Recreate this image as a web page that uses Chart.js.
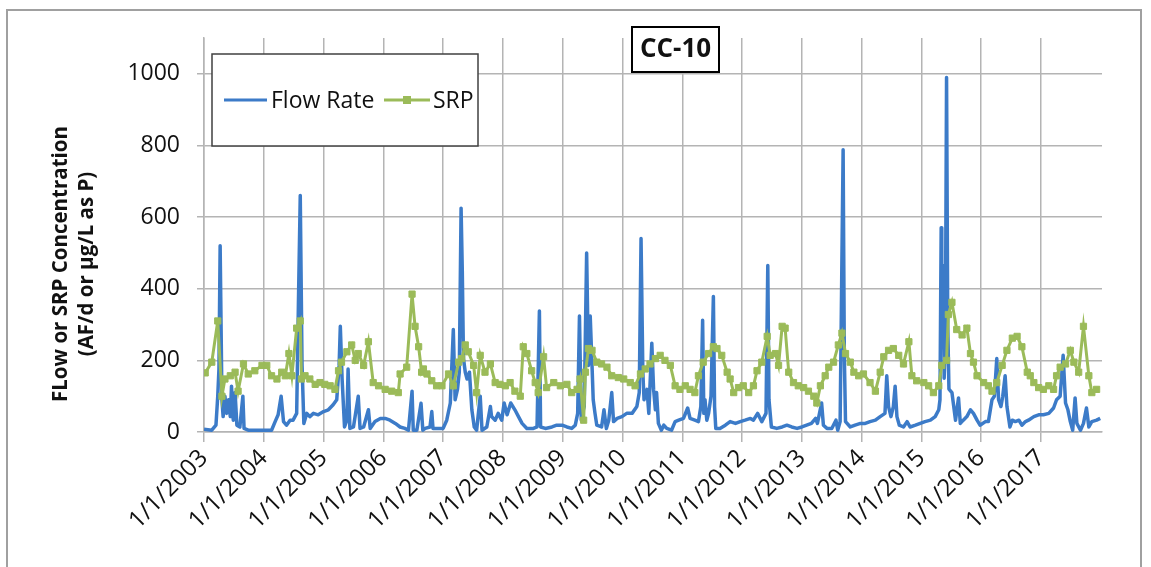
<!DOCTYPE html>
<html>
<head>
<meta charset="utf-8">
<script src="https://cdn.jsdelivr.net/npm/chart.js@4.4.1/dist/chart.umd.min.js"></script>
<style>
  html, body { margin: 0; padding: 0; background: #ffffff; }
  #wrap { position: relative; width: 1151px; height: 567px; }
  canvas { display: block; }
</style>
</head>
<body>
<div id="wrap"><canvas id="c" width="1151" height="567"></canvas></div>
<script>
// ---- Chart text ----
const chartTitle = 'CC-10';
const yTitleLines = ['FLow or SRP Concentration', '(AF/d or \u00b5g/L as P)'];
const seriesNames = ['Flow Rate', 'SRP'];

// ---- Axis ticks ----
const xTickYears = [2003, 2004, 2005, 2006, 2007, 2008, 2009, 2010, 2011, 2012, 2013, 2014, 2015, 2016, 2017];
const xTickLabels = ['1/1/2003', '1/1/2004', '1/1/2005', '1/1/2006', '1/1/2007', '1/1/2008', '1/1/2009',
  '1/1/2010', '1/1/2011', '1/1/2012', '1/1/2013', '1/1/2014', '1/1/2015', '1/1/2016', '1/1/2017'];
const yTickValues = [0, 200, 400, 600, 800, 1000];

// ---- Flow rate (AF/d), [decimal year, value] ----
const flowReadings = [
  [2003.00, 8], [2003.13, 5], [2003.20, 19], [2003.23, 100], [2003.25, 176], [2003.27, 520], [2003.30, 90], [2003.32, 43],
  [2003.35, 100], [2003.38, 52], [2003.41, 90], [2003.44, 43], [2003.46, 128], [2003.49, 33], [2003.52, 110], [2003.55, 19],
  [2003.60, 14], [2003.65, 100], [2003.67, 10], [2003.74, 5],
  [2004.13, 5], [2004.19, 29], [2004.24, 48], [2004.29, 100], [2004.33, 29], [2004.38, 19], [2004.44, 33], [2004.49, 33],
  [2004.55, 52], [2004.58, 367], [2004.61, 660], [2004.64, 186], [2004.67, 24], [2004.72, 52], [2004.77, 43], [2004.83, 52],
  [2004.91, 48],
  [2005.00, 57], [2005.08, 62], [2005.16, 76], [2005.22, 90], [2005.26, 186], [2005.28, 295], [2005.31, 148], [2005.35, 14],
  [2005.39, 33], [2005.41, 176], [2005.44, 10], [2005.50, 14], [2005.58, 100], [2005.61, 10], [2005.67, 14], [2005.75, 62],
  [2005.78, 10], [2005.86, 29], [2005.95, 38],
  [2006.03, 38], [2006.11, 33], [2006.20, 24], [2006.28, 14], [2006.36, 10], [2006.42, 5], [2006.48, 114], [2006.50, 5],
  [2006.56, 5], [2006.63, 80], [2006.66, 5], [2006.70, 10], [2006.78, 14], [2006.81, 57], [2006.83, 10],
  [2007.00, 10], [2007.06, 33], [2007.12, 81], [2007.17, 286], [2007.20, 90], [2007.24, 119], [2007.27, 167], [2007.30, 625],
  [2007.32, 452], [2007.34, 205], [2007.37, 167], [2007.40, 148], [2007.44, 167], [2007.48, 62], [2007.52, 14], [2007.56, 5],
  [2007.62, 100], [2007.65, 5], [2007.73, 14], [2007.79, 71], [2007.81, 43], [2007.87, 33], [2007.92, 52], [2007.98, 33],
  [2008.02, 81], [2008.07, 48], [2008.13, 81], [2008.20, 62], [2008.26, 43], [2008.32, 24], [2008.40, 10], [2008.51, 10],
  [2008.57, 14], [2008.61, 338], [2008.63, 14], [2008.71, 10], [2008.82, 14], [2008.90, 19], [2008.99, 19],
  [2009.07, 14], [2009.15, 10], [2009.21, 19], [2009.25, 52], [2009.28, 324], [2009.31, 33], [2009.33, 52], [2009.36, 71],
  [2009.40, 500], [2009.43, 186], [2009.46, 324], [2009.49, 186], [2009.51, 90], [2009.54, 52], [2009.57, 19], [2009.65, 14],
  [2009.69, 62], [2009.73, 10], [2009.77, 33], [2009.82, 110], [2009.85, 29], [2009.91, 38], [2009.99, 43],
  [2010.07, 52], [2010.16, 52], [2010.24, 71], [2010.28, 110], [2010.31, 540], [2010.34, 167], [2010.36, 90], [2010.41, 119],
  [2010.44, 52], [2010.49, 248], [2010.52, 119], [2010.55, 62], [2010.57, 110], [2010.60, 24], [2010.65, 5], [2010.69, 19],
  [2010.74, 10], [2010.82, 5], [2010.88, 29], [2010.94, 33],
  [2011.02, 38], [2011.09, 67], [2011.13, 38], [2011.21, 33], [2011.27, 29], [2011.31, 71], [2011.34, 312], [2011.36, 52],
  [2011.38, 90], [2011.41, 33], [2011.44, 52], [2011.48, 100], [2011.52, 378], [2011.54, 71], [2011.56, 10], [2011.63, 10],
  [2011.72, 19], [2011.80, 29], [2011.89, 24], [2011.97, 29],
  [2012.05, 33], [2012.14, 38], [2012.19, 33], [2012.26, 52], [2012.33, 29], [2012.40, 52], [2012.43, 465], [2012.45, 90],
  [2012.49, 14], [2012.58, 10], [2012.67, 14], [2012.75, 19], [2012.83, 14], [2012.92, 10],
  [2013.00, 14], [2013.08, 19], [2013.16, 24], [2013.23, 38], [2013.26, 24], [2013.33, 81], [2013.36, 19], [2013.42, 10],
  [2013.50, 10], [2013.57, 33], [2013.60, 5], [2013.64, 29], [2013.69, 788], [2013.71, 214], [2013.73, 29], [2013.81, 14],
  [2013.89, 19], [2013.98, 24],
  [2014.06, 24], [2014.14, 29], [2014.23, 33], [2014.31, 43], [2014.39, 52], [2014.42, 157], [2014.45, 71], [2014.49, 43],
  [2014.53, 71], [2014.56, 128], [2014.59, 43], [2014.63, 19], [2014.70, 14], [2014.76, 29], [2014.81, 14], [2014.90, 19],
  [2014.98, 24],
  [2015.06, 29], [2015.15, 33], [2015.23, 43], [2015.29, 62], [2015.31, 90], [2015.33, 570], [2015.34, 300], [2015.36, 465],
  [2015.38, 150], [2015.40, 250], [2015.42, 990], [2015.44, 300], [2015.46, 120], [2015.51, 110], [2015.57, 33], [2015.62, 95],
  [2015.65, 24], [2015.70, 33], [2015.76, 43], [2015.82, 62], [2015.87, 52], [2015.93, 33], [2015.98, 19],
  [2016.07, 29], [2016.12, 29], [2016.18, 90], [2016.22, 100], [2016.26, 205], [2016.29, 90], [2016.33, 71], [2016.36, 100],
  [2016.40, 157], [2016.43, 71], [2016.48, 14], [2016.52, 33], [2016.57, 29], [2016.63, 33], [2016.68, 19], [2016.74, 29],
  [2016.79, 33], [2016.88, 43], [2016.96, 48],
  [2017.04, 48], [2017.13, 52], [2017.21, 67], [2017.26, 90], [2017.32, 100], [2017.37, 214], [2017.41, 81], [2017.45, 62],
  [2017.49, 29], [2017.53, 5], [2017.57, 95], [2017.60, 24], [2017.66, 5], [2017.71, 24], [2017.76, 67], [2017.80, 14],
  [2017.85, 29], [2017.93, 33], [2017.99, 38]
];

// ---- SRP (ug/L as P), [decimal year, value] ----
const srpReadings = [
  [2003.02, 165], [2003.13, 195], [2003.23, 310], [2003.30, 100], [2003.35, 148], [2003.44, 157], [2003.52, 167], [2003.57, 114],
  [2003.66, 190], [2003.74, 162], [2003.85, 171], [2003.97, 186],
  [2004.05, 186], [2004.13, 157], [2004.22, 148], [2004.30, 167], [2004.36, 157], [2004.42, 219], [2004.47, 157], [2004.55, 290],
  [2004.61, 310], [2004.63, 148], [2004.69, 157], [2004.77, 148], [2004.86, 133], [2004.94, 138],
  [2005.02, 133], [2005.11, 129], [2005.19, 119], [2005.25, 171], [2005.30, 195], [2005.39, 224], [2005.47, 243], [2005.53, 200],
  [2005.58, 219], [2005.67, 186], [2005.75, 252], [2005.83, 138], [2005.92, 129],
  [2006.03, 119], [2006.14, 114], [2006.25, 110], [2006.28, 162], [2006.39, 181], [2006.48, 385], [2006.53, 295], [2006.59, 238],
  [2006.64, 167], [2006.67, 176], [2006.73, 162], [2006.81, 143], [2006.89, 129], [2006.98, 129],
  [2007.09, 162], [2007.17, 129], [2007.26, 195], [2007.31, 205], [2007.37, 243], [2007.42, 224], [2007.51, 186], [2007.56, 110],
  [2007.62, 214], [2007.70, 167], [2007.79, 190], [2007.87, 138], [2007.95, 133],
  [2008.04, 129], [2008.12, 138], [2008.20, 114], [2008.29, 100], [2008.34, 238], [2008.40, 219], [2008.48, 171], [2008.54, 138],
  [2008.59, 110], [2008.68, 210], [2008.73, 124], [2008.85, 138], [2008.96, 129],
  [2009.07, 133], [2009.15, 110], [2009.24, 119], [2009.29, 148], [2009.35, 33], [2009.38, 167], [2009.43, 233], [2009.49, 228],
  [2009.57, 195], [2009.65, 190], [2009.74, 181], [2009.82, 157], [2009.93, 152],
  [2010.02, 148], [2010.13, 138], [2010.21, 129], [2010.30, 162], [2010.38, 176], [2010.46, 190], [2010.55, 205], [2010.63, 214],
  [2010.71, 200], [2010.80, 186], [2010.88, 129], [2010.96, 119],
  [2011.05, 129], [2011.13, 119], [2011.21, 110], [2011.27, 157], [2011.35, 195], [2011.44, 219], [2011.52, 238], [2011.58, 233],
  [2011.66, 214], [2011.75, 167], [2011.80, 148], [2011.86, 110], [2011.94, 124],
  [2012.02, 129], [2012.11, 110], [2012.19, 129], [2012.25, 171], [2012.33, 195], [2012.42, 267], [2012.47, 214], [2012.56, 219],
  [2012.61, 186], [2012.67, 295], [2012.72, 290], [2012.78, 167], [2012.86, 138], [2012.94, 129],
  [2013.03, 124], [2013.11, 114], [2013.20, 100], [2013.25, 81], [2013.31, 129], [2013.39, 157], [2013.45, 181], [2013.53, 195],
  [2013.61, 243], [2013.67, 276], [2013.73, 219], [2013.81, 195], [2013.87, 167], [2013.95, 157],
  [2014.03, 162], [2014.14, 138], [2014.23, 114], [2014.31, 167], [2014.37, 210], [2014.45, 228], [2014.53, 233], [2014.62, 214],
  [2014.70, 190], [2014.79, 252], [2014.84, 157], [2014.92, 143],
  [2015.04, 138], [2015.12, 129], [2015.20, 110], [2015.29, 129], [2015.34, 186], [2015.42, 200], [2015.45, 328], [2015.51, 362],
  [2015.59, 286], [2015.68, 271], [2015.76, 290], [2015.82, 219], [2015.87, 195], [2015.93, 157],
  [2016.04, 138], [2016.12, 129], [2016.18, 114], [2016.26, 138], [2016.35, 186], [2016.43, 228], [2016.52, 262], [2016.60, 267],
  [2016.68, 238], [2016.77, 167], [2016.82, 157], [2016.88, 138], [2016.96, 124],
  [2017.04, 119], [2017.13, 129], [2017.21, 119], [2017.26, 157], [2017.32, 181], [2017.41, 190], [2017.49, 228], [2017.55, 195],
  [2017.63, 167], [2017.71, 295], [2017.80, 157], [2017.85, 110], [2017.93, 119]
];

// ---- Styling ----
const FLOW_COLOR = '#3C7BC8';
const SRP_COLOR = '#9BBB59';
const GRID_COLOR = '#b4b4b4';
const TEXT_COLOR = '#111111';
const FONT = '"Open Sans", "Liberation Sans", sans-serif';

// Frame, title box, legend box and the two-line axis title
const decorPlugin = {
  id: 'decor',
  beforeDraw(chart) {
    const ctx = chart.ctx;
    ctx.save();
    ctx.fillStyle = '#ffffff';
    ctx.fillRect(0, 0, chart.width, chart.height);
    ctx.strokeStyle = '#a0a0a0';
    ctx.lineWidth = 2;
    ctx.strokeRect(7, 10, 1134, 570);
    ctx.restore();
  },
  afterDraw(chart) {
    const ctx = chart.ctx;
    ctx.save();

    // title box
    ctx.fillStyle = '#ffffff';
    ctx.fillRect(632, 27, 87, 45);
    ctx.strokeStyle = '#000000';
    ctx.lineWidth = 2;
    ctx.strokeRect(632, 27, 87, 45);
    ctx.fillStyle = TEXT_COLOR;
    ctx.font = 'bold 26px ' + FONT;
    ctx.textAlign = 'center';
    ctx.textBaseline = 'middle';
    ctx.fillText(chartTitle, 675.5, 50);

    // legend box
    ctx.fillStyle = '#ffffff';
    ctx.fillRect(212, 54, 266, 92);
    ctx.strokeStyle = '#404040';
    ctx.lineWidth = 1.5;
    ctx.strokeRect(212, 54, 266, 92);
    const ly = 100;
    ctx.lineWidth = 3;
    ctx.strokeStyle = FLOW_COLOR;
    ctx.beginPath(); ctx.moveTo(224, ly); ctx.lineTo(267, ly); ctx.stroke();
    ctx.strokeStyle = SRP_COLOR;
    ctx.beginPath(); ctx.moveTo(384, ly); ctx.lineTo(430, ly); ctx.stroke();
    ctx.fillStyle = SRP_COLOR;
    ctx.fillRect(403, ly - 4, 8, 8);
    ctx.fillStyle = TEXT_COLOR;
    ctx.font = '23px ' + FONT;
    ctx.textAlign = 'left';
    ctx.textBaseline = 'middle';
    ctx.fillText(seriesNames[0], 271, ly + 1);
    ctx.fillText(seriesNames[1], 433, ly + 1);

    // y-axis title (two lines, rotated)
    ctx.font = 'bold 20.5px ' + FONT;
    ctx.textAlign = 'center';
    ctx.textBaseline = 'middle';
    ctx.save();
    ctx.translate(61, 264);
    ctx.rotate(-Math.PI / 2);
    ctx.fillText(yTitleLines[0], 0, 0);
    ctx.restore();
    ctx.save();
    ctx.translate(87, 264);
    ctx.rotate(-Math.PI / 2);
    ctx.fillText(yTitleLines[1], 0, 0);
    ctx.restore();

    ctx.restore();
  }
};

const chart = new Chart(document.getElementById('c'), {
  type: 'line',
  data: {
    datasets: [
      {
        label: seriesNames[0],
        data: flowReadings.map(([x, y]) => ({ x, y })),
        borderColor: FLOW_COLOR,
        backgroundColor: FLOW_COLOR,
        borderWidth: 3.5,
        borderJoinStyle: 'round',
        pointRadius: 0,
        tension: 0,
        order: 2
      },
      {
        label: seriesNames[1],
        data: srpReadings.map(([x, y]) => ({ x, y })),
        borderColor: SRP_COLOR,
        backgroundColor: SRP_COLOR,
        borderWidth: 3,
        pointStyle: 'rect',
        pointRadius: 4.4,
        pointBorderWidth: 1,
        pointBorderColor: SRP_COLOR,
        pointBackgroundColor: SRP_COLOR,
        tension: 0,
        order: 1
      }
    ]
  },
  options: {
    responsive: false,
    animation: false,
    devicePixelRatio: 1,
    layout: { padding: { top: 38, right: 49, left: 0, bottom: 0 } },
    plugins: {
      legend: { display: false },
      title: { display: false },
      tooltip: { enabled: false }
    },
    scales: {
      x: {
        type: 'linear',
        min: 2003,
        max: 2018.02,
        afterBuildTicks(scale) {
          scale.ticks = xTickYears.map(v => ({ value: v }));
        },
        afterFit(scale) { scale.height = 135; },
        ticks: {
          autoSkip: false,
          maxRotation: 45,
          minRotation: 45,
          padding: 2,
          color: TEXT_COLOR,
          font: { family: FONT, size: 24 },
          callback(value) {
            const i = xTickYears.indexOf(value);
            return i >= 0 ? xTickLabels[i] : '';
          }
        },
        grid: { color: GRID_COLOR, lineWidth: 1.5, tickLength: 10, drawTicks: true },
        border: { color: GRID_COLOR, width: 1.5 }
      },
      y: {
        type: 'linear',
        min: 0,
        max: 1100,
        afterBuildTicks(scale) {
          scale.ticks = yTickValues.map(v => ({ value: v }));
        },
        afterFit(scale) { scale.width = 204; },
        ticks: {
          padding: 17,
          color: TEXT_COLOR,
          font: { family: FONT, size: 23 },
          callback(value) { return String(value); }
        },
        grid: { color: GRID_COLOR, lineWidth: 1.5, tickLength: 7, drawTicks: true },
        border: { color: GRID_COLOR, width: 1.5 }
      }
    }
  },
  plugins: [decorPlugin]
});
</script>
</body>
</html>
